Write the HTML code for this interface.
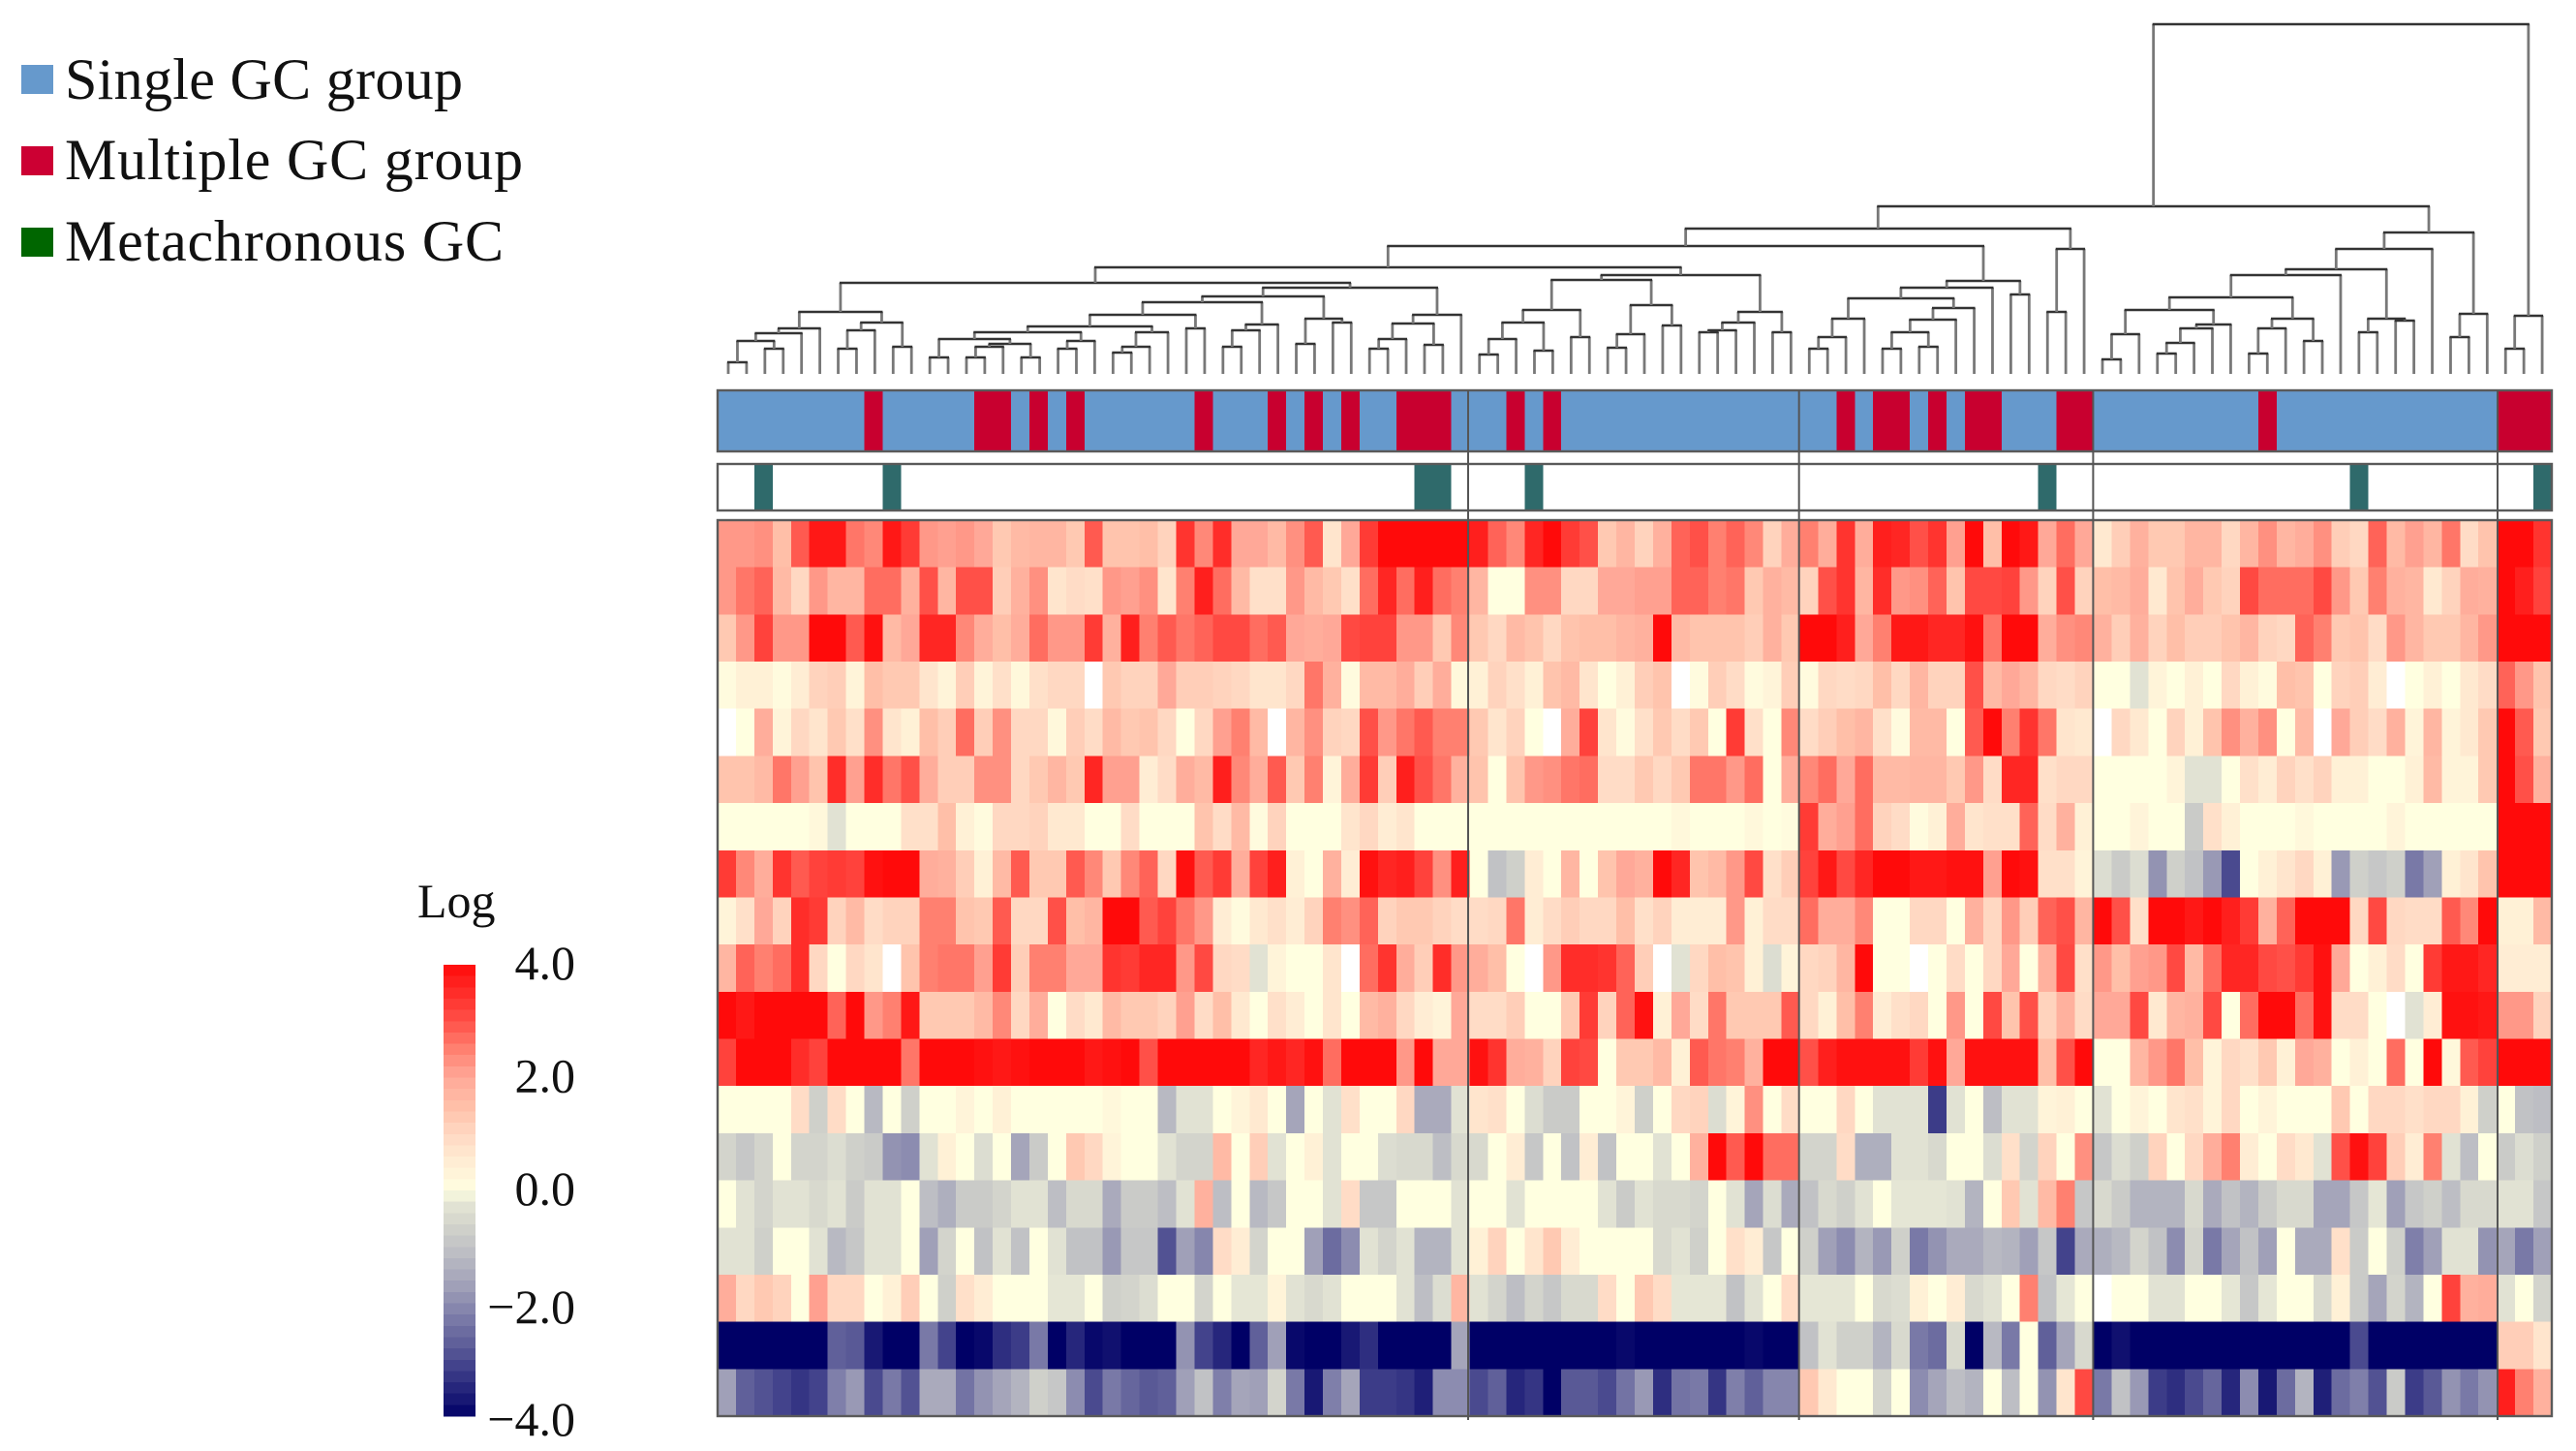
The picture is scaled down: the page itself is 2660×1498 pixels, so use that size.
<!DOCTYPE html>
<html lang="en">
<head>
<meta charset="utf-8">
<title>Clustered heatmap of GC groups</title>
<style>
html,body{margin:0;padding:0;background:#fff;}
svg{display:block;}
text{font-family:"Liberation Serif",serif;fill:#111;}
</style>
</head>
<body>
<svg id="chart" xmlns="http://www.w3.org/2000/svg" width="2660" height="1498" viewBox="0 0 2660 1498">
  <rect x="0" y="0" width="2660" height="1498" fill="#fff"/>
  <g>
    <rect x="22" y="67" width="33" height="30" fill="#6699cc"/>
    <text x="67" y="102" font-size="60" textLength="411" lengthAdjust="spacing">Single GC group</text>
    <rect x="22" y="151" width="33" height="30" fill="#cc0033"/>
    <text x="67" y="185" font-size="60" textLength="473" lengthAdjust="spacing">Multiple GC group</text>
    <rect x="22" y="235" width="33" height="30" fill="#006600"/>
    <text x="67" y="269" font-size="60" textLength="453" lengthAdjust="spacing">Metachronous GC</text>
  </g>
  <g id="dendrogram"></g>
  <g id="annotations"></g>
  <g id="heatmap" shape-rendering="crispEdges"></g>
  <g id="frames"></g>
  <g id="colorbar">
    <text x="431" y="947" font-size="50">Log</text>
  </g>
</svg>
<script>
// ---- heatmap values: one named array per row, 100 columns (null = blank cell) ----
const row01 = [2.2,2.2,2.3,1.5,2.9,3.8,3.8,2.6,2.4,3.8,3.3,2.2,2.1,2.2,2.0,1.3,1.6,1.7,1.7,1.3,2.9,1.4,1.4,1.5,1.1,3.4,2.4,3.5,2.0,2.0,1.6,2.3,2.9,0.7,2.0,3.3,4,4,4,4,4,
  3.7,2.8,2.4,3.6,4,3.3,3.0,1.3,1.7,1.1,1.8,2.8,3.0,2.5,2.8,2.4,1.1,1.9,
  2.5,1.9,3.4,1.9,3.7,3.6,3.0,3.4,2.1,4,1.5,4,3.8,2.0,2.7,2.0,
  0.6,1.2,1.8,1.3,1.3,1.7,1.7,1.0,1.7,2.3,1.7,1.9,2.3,1.2,1.0,2.8,1.6,2.1,1.7,2.6,0.9,1.4,
  4,4,3.4];
const row02 = [2.2,2.6,2.8,1.6,1.0,2.2,1.7,1.7,2.7,2.7,1.8,3.0,1.7,3.0,3.0,1.2,1.8,2.3,0.7,0.9,0.8,2.2,2.1,2.3,0.7,2.5,3.7,2.7,1.6,0.8,0.8,2.2,1.6,1.3,0.8,2.7,3.6,2.7,3.7,2.7,2.5,
  1.7,0,0,2.3,2.3,1.0,1.0,2.0,2.0,2.1,2.1,2.8,2.8,2.5,2.6,1.3,1.8,1.6,
  1.1,3.0,3.4,1.7,3.5,2.2,2.3,2.8,1.4,3.1,3.1,3.2,2.2,1.1,3.0,1.1,
  1.5,1.6,1.9,0.6,1.4,1.9,1.3,1.1,3.1,2.7,2.7,2.7,3.1,2.2,1.3,2.5,1.8,1.7,0.6,1.1,1.9,1.8,
  4,3.7,3.2];
const row03 = [1.3,2.2,3.2,2.2,2.2,4,4,2.9,3.9,1.6,2.0,3.6,3.6,2.4,1.9,1.5,1.9,2.7,2.2,2.2,3.3,1.8,3.7,2.5,2.9,2.6,2.8,3.1,3.1,2.7,2.9,2.0,1.9,2.0,3.1,3.2,3.2,2.2,2.2,1.3,2.4,
  1.3,1.0,1.6,1.4,1.0,1.4,1.5,1.5,1.7,1.8,4,1.6,1.4,1.4,1.4,1.2,1.8,1.3,
  4,4,3.7,2.0,2.5,3.8,3.8,3.6,3.6,3.9,2.6,4,4,1.9,2.3,2.4,
  1.8,1.2,1.8,1.1,1.5,1.2,1.2,1.4,1.7,1.1,1.0,2.8,2.5,1.3,1.4,0.9,2.2,1.7,1.3,1.3,1.7,2.2,
  4,4,4];
const row04 = [0.1,0.4,0.4,0.1,0.5,1.1,1.2,0.3,1.5,1.3,1.3,0.7,0.3,1.2,0.3,0.8,0.2,0.8,1.0,1.0,null,1.3,1.1,1.1,2.0,1.2,1.2,1.1,1.0,0.7,0.7,1.0,2.6,1.8,0.1,1.6,1.6,1.9,1.2,1.9,0.2,
  0.4,1.1,0.8,0.4,1.4,1.6,0.7,0,0.4,1.2,1.4,null,0.1,1.2,0.9,0.1,0.3,1.2,
  0.1,1.0,0.9,1.0,1.5,1.0,1.7,1.1,1.1,3.0,1.6,2.0,1.7,1.0,0.9,1.1,
  0,0,-0.3,0.3,0,0.4,0,1.0,0.4,0.1,1.5,1.4,0,1.1,1.2,0.5,null,0,0.4,0,0.6,0.9,
  2.8,2.2,1.4];
const row05 = [null,0,1.9,0.3,1.0,0.7,1.3,0.8,2.3,0.7,0.4,1.5,1.2,2.7,1.2,2.3,1.0,1.0,0.2,1.2,0.9,1.6,1.3,1.4,1.0,0,1.0,2.1,2.5,1.6,null,1.7,2.3,1.1,1.0,3.0,2.2,2.6,2.9,2.5,2.5,
  1.3,0.7,1.1,0,null,1.9,3.2,0.7,0.1,0.8,1.3,0.9,1.3,0,3.3,0.8,0,2.4,
  0.9,1.2,1.5,1.7,0.8,0.1,1.6,1.6,0,2.9,4,2.5,3.4,2.6,0.7,0.6,
  null,1.0,0.6,0,1.1,0.4,1.4,2.3,1.8,2.3,0,1.6,null,2.0,1.2,0.9,1.8,0.3,1.7,0.3,0.6,1.3,
  4,2.9,1.3];
const row06 = [1.4,1.4,1.6,2.6,2.1,1.4,3.5,2.1,3.5,2.6,3.0,1.9,1.2,1.2,2.3,2.3,1.0,1.3,1.7,1.3,3.6,2.1,2.1,0.5,0.9,1.9,1.6,3.7,2.4,1.9,2.9,1.3,2.5,0.3,1.9,3.3,1.2,3.7,3.0,2.6,1.8,
  1.4,0,1.4,2.2,2.3,2.6,2.7,0.9,0.9,1.3,1.0,1.3,2.6,2.6,2.2,2.7,0,1.9,
  2.4,2.7,2.0,2.7,1.6,1.6,1.7,1.7,1.3,2.2,0.9,3.6,3.6,0.8,1.0,1.0,
  0,0,0,0,0.3,-0.3,-0.3,0,0.8,0.5,1.1,0.8,1.1,0.4,0.4,0,0,0.4,1.6,0.3,0.3,1.3,
  4,3,1.8];
const row07 = [0,0,0,0,0,0.2,-0.3,0,0,0,0.8,0.8,1.5,0.4,0.1,1.0,1.0,1.1,0.6,0.6,0,0,0.9,0,0,0,1.4,0.9,1.6,0.1,1.1,0,0,0,0.7,1.0,0.5,0.7,0,0,0,
  0,0,0,0,0,0,0,0,0,0,0,0.2,0,0,0,0.2,0,0.1,
  3.3,1.9,2.1,2.7,1.1,0.9,0.1,0.4,1.9,0.7,0.8,0.8,2.8,0.9,1.8,0.4,
  0,0,0.3,0,0,-0.8,0.8,0.4,0,0,0,0.2,0,0,0,0,0.3,0,0,0,0,0,
  4,4,4];
const row08 = [3.3,2.4,1.9,3.4,2.9,3.2,3.3,3.2,3.9,4,4,1.9,1.8,1.2,0.4,1.6,2.9,1.3,1.3,2.9,2.4,1.3,2.4,2.8,1.0,3.9,2.9,3.3,1.9,3.2,3.7,0.4,0,1.8,0.5,3.9,3.6,3.7,3.2,2.3,3.7,
  0,-1.0,-0.7,0.5,0,1.7,0,1.4,2.0,1.8,4,3.6,1.4,1.6,2.2,3.1,0.8,1.2,
  3.2,3.8,3.1,3.6,4,4,3.8,3.8,3.9,3.9,2.1,4,3.9,0.8,0.8,0.3,
  -0.4,-0.8,-0.4,-1.9,-0.7,-1.0,-1.8,-3.0,0,0.4,0.7,1.0,0.4,-1.8,-0.7,-0.9,-0.7,-2.3,-1.7,0.4,0.7,1.4,
  4,4,4];
const row09 = [0.3,0.8,2.0,1.1,3.5,3.3,1.1,1.6,0.9,1.1,1.1,2.5,2.5,1.4,1.3,2.9,1.0,1.0,3.0,1.5,1.7,4,4,2.9,3.2,2.6,2.2,0.5,0.1,0.6,0.8,0.5,1.1,2.5,2.3,2.8,1.1,1.3,1.3,1.1,0.9,
  0.9,1.0,2.6,0.5,0.9,1.2,1.0,1.0,1.5,0.8,1.1,0.5,0.5,0.5,2.2,0.4,0.9,0.9,
  2.7,1.9,1.9,2.4,0,0,1.0,1.0,0,1.8,1.0,2.2,1.2,2.8,3.0,1.7,
  4,3.0,0.8,4,4,3.8,4,3.7,3.3,1.8,2.8,4,4,4,1.0,3.1,1.0,0.9,0.9,2.9,2.4,4,
  0.4,0.4,1.6];
const row10 = [1.7,2.8,2.5,2.7,3.5,1.0,0,1.0,0.7,null,1.4,2.5,2.6,2.6,2.1,3.3,1.2,2.5,2.5,2.0,2.0,3.4,3.3,3.6,3.6,2.2,3.1,1.0,0.9,-0.3,0.3,0,0,0.7,null,2.7,3.4,1.9,1.2,3.5,2.2,
  1.9,1.5,0,null,2.2,3.5,3.5,3.4,2.8,1.2,null,-0.3,1.0,1.5,1.4,0.4,-0.4,0.3,
  1.0,1.1,1.7,4,0,0,null,0,0.9,0,1.0,2.0,0,1.8,3.1,0.8,
  2.2,1.5,2.1,2.2,3.1,1.6,2.7,3.6,3.6,3.1,3.0,3.3,3.9,2.0,0,0.4,0.9,0,3.3,3.8,3.8,3.6,
  0.5,0.5,0.5];
const row11 = [4,3.8,4,4,4,4,2.8,4,2.2,2.5,3.8,1.3,1.3,1.3,1.6,2.4,1.0,1.9,0,0.9,0.6,1.6,1.3,1.3,1.1,2.1,0.9,1.5,0.6,0,0.8,0.5,0,0.7,0,1.6,1.8,1.0,0.5,0.3,2.0,
  0.9,0.9,1.2,0,0,1.3,3.3,1.1,2.8,3.9,0.4,2.0,0.9,2.6,1.3,1.3,1.3,2.9,
  1.0,0.4,1.5,2.5,0.5,0.8,1.0,0,2.2,0,3.1,1.4,3.0,1.1,1.8,0.9,
  2.0,2.0,3.1,0.6,1.7,1.8,3.1,0,2.7,4,4,2.7,3.9,0.9,0.9,0,null,-0.3,0.5,3.9,3.9,3.8,
  2.2,2.2,1.1];
const row12 = [3.2,4,4,4,3.5,3.2,4,4,4,4,2.6,4,4,4,3.9,3.8,3.9,4,4,4,3.8,3.9,4,3.0,4,4,4,4,4,3.6,3.8,3.6,3.9,2.7,4,4,4,2.2,4,2.0,2.0,
  3.9,3.4,1.9,1.8,1.1,3.2,3.1,0,1.3,1.3,1.6,0.4,2.9,2.6,2.5,1.8,4,4,
  3.0,3.7,3.9,3.9,3.9,3.9,3.3,3.9,2.0,3.9,3.9,3.9,3.9,1.5,3.0,4,
  0,0,1.7,2.2,2.6,1.5,0.3,1.0,0.8,1.3,0.4,2.0,1.8,0,0.4,0,2.7,0,4,0.2,2.9,3.2,
  4,4,4];
const row13 = [0,0,0,0,0.9,-0.7,0.9,0,-1.2,0,-0.7,0,0,0.3,0,0.4,0,0,0,0,0,0.2,0,0,-1.2,-0.3,-0.3,0,0.3,0.6,0,-1.6,0,-0.3,0.8,0,0,1.0,-1.5,-1.5,-0.3,
  0.7,0.8,0,-0.4,-0.8,-0.8,0,0,0.3,-0.7,0,1.0,1.1,-0.4,0.3,2.3,0,0.9,
  0,0,1.0,0,-0.3,-0.3,-0.3,-3.2,-0.3,0,-1.1,-0.3,-0.3,0.3,0.4,0,
  -0.3,0,0.3,0,0.7,0.8,0.3,1.0,0,0.3,0,0,0,1.3,0,1.0,1.0,0.8,1.0,1.0,0.4,-0.7,
  0,-1.0,-1.1];
const row14 = [-0.6,-0.9,-0.6,0,-0.6,-0.6,-0.4,-0.7,-0.8,-1.9,-2.0,-0.3,0.4,0,-0.4,0,-1.6,-0.8,0,1.3,1.0,0.3,0,0,-0.3,-0.6,-0.6,1.6,0,1.2,-0.3,0,0.4,-0.3,0,0,-0.4,-0.5,-0.5,-1.1,-0.5,
  -0.5,0,0.5,-0.9,0,-1.0,0.5,-1.0,0,0,-0.3,0,1.8,4,2.9,4,2.7,2.7,
  -0.6,-0.6,0.9,-1.4,-1.4,-0.3,-0.3,-0.5,0,0,-0.4,0.8,-0.6,1.1,0,2.3,
  -0.9,-0.4,-0.7,1.1,0,1.0,1.9,2.5,0.5,0,0.9,0.6,-0.3,3.0,3.9,3.2,1.2,0.5,2.5,-0.3,-1.1,0,
  -0.8,-0.4,-0.7];
const row15 = [0,-0.3,-0.6,-0.3,-0.3,-0.5,-0.3,-0.8,-0.3,-0.3,0,-1.1,-1.4,-0.8,-0.8,-0.6,-0.3,-0.3,-1.1,-0.5,-0.5,-1.5,-0.8,-0.8,-1.1,-0.3,1.8,-1.1,0,-1.2,-0.9,0,0,-0.3,0.9,-0.9,-0.9,0,0,0,-0.3,
  0,0,-0.3,0,0,0,0,-0.3,-0.8,-0.3,-0.5,-0.5,-0.6,0,-0.3,-1.6,-0.4,-1.5,
  -1.0,-0.5,-0.7,-0.3,0,-0.2,-0.2,-0.2,-0.3,-1.3,0,1.3,-0.3,1.6,2.5,-0.9,
  -0.5,-0.8,-1.3,-1.3,-1.3,-0.5,-1.5,-1.0,-1.3,-0.8,-0.5,-0.5,-1.6,-1.6,-0.9,-0.2,-1.7,-0.9,-0.7,-1.1,-0.5,-0.5,
  -0.3,-0.3,-0.9];
const row16 = [-0.3,-0.3,-0.7,0,0,-0.3,-1.2,-0.9,-0.3,-0.3,0,-1.7,-0.6,0,-1.0,-0.3,-1.0,0,-0.3,-1.0,-1.0,-1.8,-0.9,-0.9,-2.9,-1.7,-2.1,0.9,0.5,-0.6,0,0,-1.7,-2.5,-2.0,-0.3,-0.6,-0.3,-1.3,-1.3,-0.3,
  0.4,1.1,0,0.7,1.3,0.5,0,0,0,0,-0.5,-0.3,-0.7,0,0.8,0.5,-0.9,0,
  -0.7,-1.7,-2.0,-1.3,-1.8,-0.7,-2.3,-1.9,-1.5,-1.5,-1.2,-1.3,-1.7,-0.9,-3.1,-1.5,
  -1.4,-1.2,-0.6,-1.0,-2.0,-0.6,-2.3,-1.6,-1.0,-1.7,0,-1.5,-1.5,0.8,-0.8,0,-0.7,-2.2,-1.7,-0.3,-0.3,-1.9,
  -1.6,-2.3,-1.7];
const row17 = [1.9,1.0,1.3,1.1,0,2.1,1.0,1.0,0,0.4,1.2,0,-0.7,0.8,0.5,0,0,0,-0.2,-0.2,0,-0.7,-0.6,-0.4,0,0,-0.6,0,-0.2,-0.2,0.3,-0.3,-0.5,-0.3,0,0,0,-0.3,-1.1,-0.4,1.7,
  -0.3,-0.6,-1.1,-0.6,-0.9,-0.5,-0.5,0.9,0,1.3,0.9,-0.2,-0.2,-0.2,-1.0,-0.3,0,0.9,
  -0.2,-0.2,-0.2,0,-0.5,-0.4,0.4,0,0.5,-0.5,-0.3,0,2.5,-1.0,-0.2,0,
  null,0,0,-0.3,-0.3,0,0,-0.2,-0.9,-0.2,0,0,-0.5,0.4,-0.8,-1.6,-0.6,-1.3,0,3.2,1.8,1.9,
  -0.3,0,-0.6];
const row18 = [-4,-4,-4,-4,-4,-4,-2.7,-2.8,-3.7,-4,-4,-2.3,-3.1,-4,-3.9,-3.4,-3.2,-2.3,-4,-3.5,-3.9,-3.8,-4,-4,-4,-1.9,-3.1,-3.5,-4,-2.7,-1.7,-3.9,-4,-4,-3.7,-3.4,-4,-4,-4,-4,-1.6,
  -4,-4,-4,-4,-4,-4,-4,-4,-3.9,-4,-4,-4,-4,-4,-4,-3.9,-4,-4,
  -1.0,-0.3,-0.7,-0.7,-1.3,-0.5,-2.3,-2.5,-0.5,-4,-1.2,-2.3,0,-2.7,-1.6,-0.5,
  -4,-3.8,-4,-4,-4,-4,-4,-4,-4,-4,-4,-4,-4,-4,-3.0,-4,-4,-4,-4,-4,-4,-4,
  1.2,1.2,0.7];
const row19 = [-1.7,-2.7,-2.9,-3.1,-3.3,-3.1,-2.2,-1.8,-3.0,-2.3,-2.9,-1.5,-1.5,-2.4,-1.9,-1.6,-1.3,-0.7,-0.9,-2.0,-3.0,-2.3,-2.6,-2.8,-2.7,-1.7,-1.0,-2.2,-1.6,-1.7,-0.6,-2.3,-3.7,-2.2,-1.6,-3.2,-3.2,-3.3,-3.6,-2.0,-2.0,
  -3.0,-2.7,-3.5,-3.3,-4,-2.8,-2.8,-3.0,-2.4,-1.8,-3.4,-2.4,-2.3,-3.3,-2.2,-2.7,-2.1,-2.1,
  1.3,0.6,0,0,-0.6,0,-2.0,-1.6,-1.1,-1.3,0,-1.1,0,-1.9,0.7,3.1,
  -2.3,-1.0,-1.8,-3.2,-3.4,-3.0,-2.6,-3.5,-2.0,-3.7,-2.5,-1.3,-3.6,-2.5,-2.2,-2.9,-0.8,-3.2,-2.8,-1.9,-2.3,-1.9,
  3.7,2.5,1.8];
const heatRows = [row01,row02,row03,row04,row05,row06,row07,row08,row09,row10,row11,row12,row13,row14,row15,row16,row17,row18,row19];

// ---- annotation categories: column indices ----
const multipleGcColumns = [8,14,15,17,19,26,30,32,34,37,38,39,43,45,61,63,64,66,68,69,73,74,84,97,98,99];
const metachronousColumns = [2,9,38,39,44,72,89,99];
const clusterStarts = [41,59,75,97];

// ---- colour scale ticks ----
const scaleTicks = [4,2,0,-2,-4];
const scaleTickLabels = ["4.0","2.0","0.0","\u22122.0","\u22124.0"];
const scaleLevels = [4,3,2.5,2,1.5,1,0.5,0,-0.2,-0.7,-1.2,-1.7,-2.2,-2.7,-3.2,-3.7,-4];
const scaleColors = ["#ff0a0a","#ff5048","#ff8070","#ffa898","#ffbfa8","#ffd8c2","#ffedd4","#ffffe0","#e5e6d5","#cfd0ca","#b8b9c2","#a0a0b8","#7f7faa","#60609a","#3c3c88","#181874","#000066"];

// ---- dendrogram: [merge height, left, right]; 0 = leaf ----
const treeA = [64,[47,[42,[34,[12,0,0],[26,0,0]],0],0],[53,[45,[26,0,0],0],[28,0,0]]];
const treeB = [61,[49,[43,[36,[17,0,0],[31,[28,[17,0,0],0],[17,0,0]]],[34,[26,0,0],0]],[43,[28,[22,0,0],0],0]],[47,0,0]];
const treeC = [51,[45,[28,0,0],0],0];
const treeE = [57,[31,0,0],[53,0,0]];
const treeF = [61,[52,[36,[26,0,0],0],[30,0,0]],0];
const cluster1 = [94,treeA,[89,[80,[74,treeB,treeC],treeE],treeF]];
const treeG = [97,[66,[53,[36,[20,0,0],0],[24,0,0]],[38,0,0]],[71,[41,[27,0,0],0],[50,0,0]]];
const treeH = [64,[53,[45,[43,0,0],0],0],[43,0,0]];
const cluster2 = [102,treeG,treeH];
const cluster3 = [96,[89,[78,[57,[38,[26,0,0],0],0],[68,[56,[43,[26,0,0],[28,0,0]],0],0]],0],[82,0,0]];
const treeN = [150,[132,[110,cluster1,cluster2],cluster3],[129,[64,0,0],0]];
const treeI = [79,[66,[41,[15,0,0],0],[51,[47,[32,[21,0,0],0],0],0]],[57,[47,[21,0,0],0],[34,0,0]]];
const cluster4 = [146,[129,[108,[102,treeI,0],[57,[43,0,0],[55,0,0]]],0],[62,[38,0,0],0]];
const cluster5 = [60,[26,0,0],0];
const dendrogramRoot = [361,[173,treeN,cluster4],cluster5];

const SVGNS = "http://www.w3.org/2000/svg";
const heatLeft = 741, heatRight = 2635, heatTop = 537, heatBottom = 1462;
const columnCount = row01.length;
const colStep = (heatRight - heatLeft) / columnCount;
const rowStep = (heatBottom - heatTop) / heatRows.length;
const xScale = c => heatLeft + c * colStep;
const yScale = r => heatTop + r * rowStep;
const leafX = c => 752 + 18.92 * c;
const treeY = h => 386 - h;
const scaleBarY = v => 996 + (4 - v) * (1462 - 996) / 8;
const scaleTickY = v => v < 0 ? 1250 - v * 58 : 1011 + (4 - v) * 58.25;
const separatorX = c => 1516 + (c - 41) * (2579 - 1516) / 56;

function colorFor(v) {
  if (v === null) return "#ffffff";
  const c = Math.max(-4, Math.min(4, v));
  for (let i = 0; i < scaleLevels.length - 1; i++) {
    const a = scaleLevels[i], b = scaleLevels[i + 1];
    if (c <= a && c >= b) {
      const t = (a - c) / (a - b);
      const p = parseInt(scaleColors[i].slice(1), 16), q = parseInt(scaleColors[i + 1].slice(1), 16);
      const ch = s => Math.round(((p >> s) & 255) + (((q >> s) & 255) - ((p >> s) & 255)) * t);
      return "rgb(" + ch(16) + "," + ch(8) + "," + ch(0) + ")";
    }
  }
  return "#ffffe0";
}

function make(tag, attrs, parent) {
  const el = document.createElementNS(SVGNS, tag);
  for (const k in attrs) el.setAttribute(k, attrs[k]);
  parent.appendChild(el);
  return el;
}

// heatmap cells
const heatGroup = document.getElementById("heatmap");
heatRows.forEach((row, r) => {
  row.forEach((v, c) => {
    const el = make("rect", {x: xScale(c), y: yScale(r), width: colStep + 0.4, height: rowStep + 0.4, fill: colorFor(v)}, heatGroup);
    
    
  });
});

// annotation bars
const annotations = document.getElementById("annotations");
const groupBar = make("rect", {x: heatLeft, y: 403, width: heatRight - heatLeft, height: 63, fill: "#6699cc"}, annotations);


multipleGcColumns.forEach(c => {
  const el = make("rect", {x: xScale(c), y: 403, width: colStep, height: 63, fill: "#c8002f", "shape-rendering": "crispEdges"}, annotations);
  
  
});
metachronousColumns.forEach(c => {
  const el = make("rect", {x: xScale(c), y: 479, width: colStep, height: 48, fill: "#2f6a6b", "shape-rendering": "crispEdges"}, annotations);
  
  
});

// frames and cluster separators
const frames = document.getElementById("frames");
[[403, 63, 'gc-group-frame'], [479, 48, 'metachronous-frame'], [heatTop, heatBottom - heatTop, 'heatmap-frame']].forEach(f => {
  const el = make("rect", {x: heatLeft, y: f[0], width: heatRight - heatLeft, height: f[1], fill: "none", stroke: "#5a5a5a", "stroke-width": 2.4}, frames);
  
  
});
clusterStarts.forEach(c => {
  const el = make("line", {x1: separatorX(c), x2: separatorX(c), y1: 403, y2: 1466, stroke: "#555", "stroke-width": 2}, frames);
  
  
});

// dendrogram
const dendroGroup = document.getElementById("dendrogram");
let nextLeaf = 0;
function drawLink(x1, y1, x2, y2, horizontal) {
  const el = make("line", {x1: x1, y1: y1, x2: x2, y2: y2, stroke: horizontal ? "#333" : "#787878", "stroke-width": horizontal ? 2.4 : 2.8}, dendroGroup);
  
  
}
function layoutTree(node) {
  if (node === 0) {
    return {x: leafX(nextLeaf++), h: 0};
  }
  const left = layoutTree(node[1]);
  const right = layoutTree(node[2]);
  const top = treeY(node[0]);
  drawLink(left.x, treeY(left.h), left.x, top, false);
  drawLink(right.x, treeY(right.h), right.x, top, false);
  drawLink(left.x - 1, top, right.x + 1, top, true);
  return {x: (left.x + right.x) / 2, h: node[0]};
}
layoutTree(dendrogramRoot);

// colour scale
const colorbar = document.getElementById("colorbar");
const bandCount = 40;
for (let i = 0; i < bandCount; i++) {
  const hi = 4 - i * 8 / bandCount, lo = hi - 8 / bandCount;
  const el = make("rect", {x: 458, y: scaleBarY(hi), width: 33, height: scaleBarY(lo) - scaleBarY(hi) + 0.4, fill: colorFor((hi + lo) / 2), "shape-rendering": "crispEdges"}, colorbar);
  
  
}
scaleTicks.forEach((v, i) => {
  const el = make("text", {x: 594, y: scaleTickY(v), "font-size": 50, "text-anchor": "end"}, colorbar);
  el.textContent = scaleTickLabels[i];
  
  
});
</script>
</body>
</html>
